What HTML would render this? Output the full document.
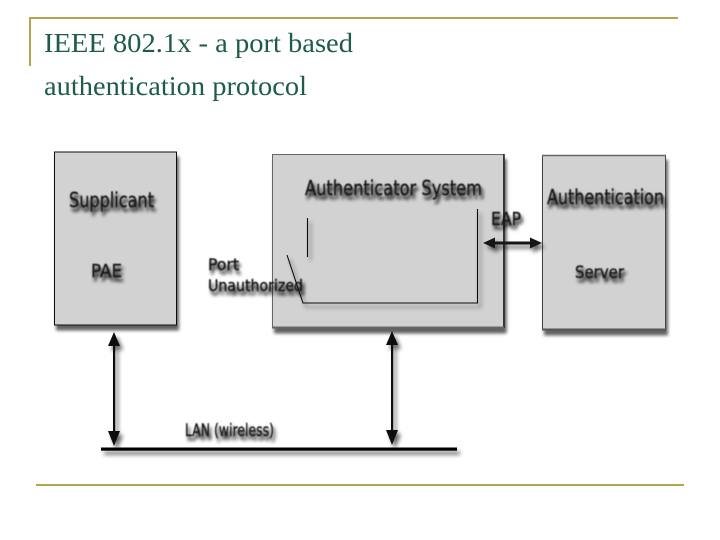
<!DOCTYPE html>
<html>
<head>
<meta charset="utf-8">
<style>
html,body{margin:0;padding:0;background:#fff;width:720px;height:540px;overflow:hidden}
svg{display:block}
.t{font-family:"Liberation Serif",serif;font-size:27px;fill:#1d5c47}
.d{font-family:"DejaVu Sans",sans-serif;fill:#1a1a1a;stroke:#1a1a1a;stroke-width:.45}
</style>
</head>
<body>
<svg width="720" height="540" viewBox="0 0 720 540" xmlns="http://www.w3.org/2000/svg">
<defs>
<filter id="ts" x="-5%" y="-5%" width="110%" height="115%">
<feGaussianBlur in="SourceAlpha" stdDeviation="1.9"/>
<feOffset dx="2" dy="4"/>
<feComponentTransfer result="s"><feFuncA type="linear" slope="1"/></feComponentTransfer>
<feGaussianBlur in="SourceGraphic" stdDeviation="0.45" result="g"/>
<feMerge><feMergeNode in="s"/><feMergeNode in="g"/></feMerge>
</filter>
<filter id="bs" x="-10%" y="-10%" width="120%" height="120%">
<feGaussianBlur in="SourceAlpha" stdDeviation="1.6"/>
<feOffset dx="2" dy="5"/>
<feComponentTransfer result="s"><feFuncA type="linear" slope="0.62"/></feComponentTransfer>
<feGaussianBlur in="SourceGraphic" stdDeviation="0.3" result="g"/>
<feMerge><feMergeNode in="s"/><feMergeNode in="g"/></feMerge>
</filter>
<filter id="ls" filterUnits="userSpaceOnUse" x="0" y="140" width="720" height="340">
<feGaussianBlur in="SourceAlpha" stdDeviation="2"/>
<feOffset dx="3" dy="4"/>
<feComponentTransfer result="s"><feFuncA type="linear" slope="0.6"/></feComponentTransfer>
<feGaussianBlur in="SourceGraphic" stdDeviation="0.3" result="g"/>
<feMerge><feMergeNode in="s"/><feMergeNode in="g"/></feMerge>
</filter>
</defs>

<!-- slide frame -->
<rect x="30" y="17" width="648" height="2" fill="#b5a350"/>
<rect x="29" y="17" width="2" height="49" fill="#b5a350"/>
<rect x="36" y="484" width="648" height="2" fill="#b0a552"/>

<!-- title -->
<text class="t" x="44" y="52" textLength="309" lengthAdjust="spacingAndGlyphs">IEEE 802.1x - a port based</text>
<text class="t" x="44" y="95" textLength="263" lengthAdjust="spacingAndGlyphs">authentication protocol</text>

<!-- boxes -->
<g filter="url(#bs)">
<rect x="54.5" y="152" width="122" height="173" fill="#d2d2d2" stroke="#0a0a0a" stroke-width="1"/>
</g>
<g filter="url(#bs)">
<rect x="272.5" y="154.5" width="231" height="173" fill="#d2d2d2" stroke="#666" stroke-width="1"/>
<line x1="504" y1="154" x2="504" y2="328" stroke="#222" stroke-width="1.5"/>
<line x1="272" y1="327.5" x2="504" y2="327.5" stroke="#666" stroke-width="2"/>
</g>
<g filter="url(#bs)">
<rect x="542.5" y="155.5" width="123" height="174" fill="#d2d2d2" stroke="#444" stroke-width="1"/>
<line x1="542" y1="329.5" x2="666" y2="329.5" stroke="#555" stroke-width="2"/>
<line x1="542" y1="155.5" x2="666" y2="155.5" stroke="#666" stroke-width="1.5"/>
</g>

<!-- inner port -->
<g filter="url(#ls)" fill="none" stroke="#111" stroke-width="1.1">
<line x1="307.5" y1="218" x2="307.5" y2="257"/>
<polyline points="287,255 303,303 477.5,303 477.5,209"/>
</g>

<!-- LAN line -->
<rect x="101" y="447.5" width="356" height="3.2" fill="#000" filter="url(#ls)"/>

<!-- arrows -->
<g filter="url(#ls)" fill="#0c0c0c" stroke="none">
<rect x="113" y="340" width="2.2" height="100"/>
<polygon points="114,332 120,346 108,346"/>
<polygon points="114,446 120,431 108,431"/>
</g>
<g filter="url(#ls)" fill="#0c0c0c" stroke="none">
<rect x="391" y="340" width="2.2" height="100"/>
<polygon points="392,331 398,345 386,345"/>
<polygon points="392,445 398,430 386,430"/>
</g>
<g filter="url(#ls)" fill="#151515" stroke="none">
<rect x="490" y="241.5" width="45" height="3"/>
<polygon points="483,243 495,237.5 495,248.5"/>
<polygon points="542,243 530,237.5 530,248.5"/>
</g>

<!-- labels -->
<g filter="url(#ts)">
<text class="d" x="69" y="207" font-size="20" textLength="85" lengthAdjust="spacingAndGlyphs">Supplicant</text>
<text class="d" x="91" y="277" font-size="18" textLength="31" lengthAdjust="spacingAndGlyphs">PAE</text>
<text class="d" x="305" y="195" font-size="20" textLength="177" lengthAdjust="spacingAndGlyphs">Authenticator System</text>
<text class="d" x="547" y="204" font-size="20" textLength="117" lengthAdjust="spacingAndGlyphs">Authentication</text>
<text class="d" x="575" y="278" font-size="17" textLength="49" lengthAdjust="spacingAndGlyphs">Server</text>
<text class="d" x="491" y="225" font-size="18" textLength="30" lengthAdjust="spacingAndGlyphs">EAP</text>
<text class="d" x="208" y="270" font-size="16" textLength="31" lengthAdjust="spacingAndGlyphs">Port</text>
<text class="d" x="208" y="291" font-size="16" textLength="95" lengthAdjust="spacingAndGlyphs">Unauthorized</text>
<text class="d" x="185" y="436" font-size="17" textLength="89" lengthAdjust="spacingAndGlyphs">LAN (wireless)</text>
</g>
</svg>
</body>
</html>
